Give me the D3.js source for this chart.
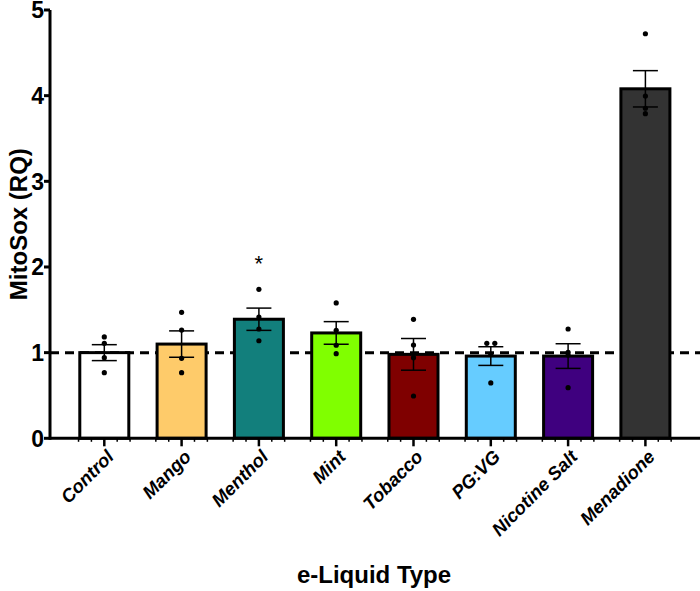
<!DOCTYPE html>
<html>
<head>
<meta charset="utf-8">
<script src="https://cdn.jsdelivr.net/npm/d3@7/dist/d3.min.js"></script>
<style>
  html, body { margin: 0; padding: 0; background: #fff; }
  svg { display: block; }
  text { font-family: "Liberation Sans", Arial, sans-serif; }
</style>
</head>
<body>
<svg id="chart" width="700" height="591"></svg>
<script>
// ---- data ----
const categories = ["Control", "Mango", "Menthol", "Mint", "Tobacco", "PG:VG", "Nicotine Salt", "Menadione"];
const means = [1.00, 1.10, 1.39, 1.23, 0.98, 0.96, 0.96, 4.08];
const sems  = [0.093, 0.154, 0.13, 0.132, 0.185, 0.109, 0.144, 0.212];
const points = [
  [1.183, 1.109, 0.941, 0.766],
  [1.471, 1.264, 0.934, 0.766],
  [1.739, 1.416, 1.276, 1.139],
  [1.580, 1.261, 1.086, 0.988],
  [1.389, 1.089, 0.941, 0.494],
  [1.109, 1.109, 0.981, 0.646],
  [1.276, 1.004, 0.972, 0.591],
  [4.723, 3.996, 3.853, 3.790]
];
const colors = ["#ffffff", "#fecb6a", "#127f7c", "#80ff00", "#7f0000", "#66ccff", "#3f007f", "#333333"];
const significant = ["Menthol"];
const yTicks = [0, 1, 2, 3, 4, 5];
const refValue = 1;
const yLabel = "MitoSox (RQ)";
const xLabel = "e-Liquid Type";

// ---- layout ----
const svg = d3.select("#chart");
const axisX = 50, axisRight = 700;
const y = d3.scaleLinear().domain([0, 5]).range([438.3, 10]);
const x = d3.scaleBand().domain(categories).range([65.65, 684.05]).paddingInner(0.366).paddingOuter(0.183);
const cx = d => x(d) + x.bandwidth() / 2;

// reference dashed line (behind bars)
svg.append("line")
  .attr("x1", axisX).attr("x2", axisRight)
  .attr("y1", y(refValue)).attr("y2", y(refValue))
  .attr("stroke", "#000").attr("stroke-width", 3)
  .attr("stroke-dasharray", "9,6");

// bars
svg.append("g").selectAll("rect").data(categories).join("rect")
  .attr("x", d => x(d))
  .attr("width", x.bandwidth())
  .attr("y", (d, i) => y(means[i]))
  .attr("height", (d, i) => y(0) - y(means[i]))
  .attr("fill", (d, i) => colors[i])
  .attr("stroke", "#000").attr("stroke-width", 3);

// error bars
const eb = svg.append("g").attr("stroke", "#000").attr("stroke-width", 1.5);
categories.forEach((c, i) => {
  const hi = y(means[i] + sems[i]), lo = y(means[i] - sems[i]);
  eb.append("line").attr("x1", cx(c)).attr("x2", cx(c)).attr("y1", hi).attr("y2", lo);
  eb.append("line").attr("x1", cx(c) - 12.5).attr("x2", cx(c) + 12.5).attr("y1", hi).attr("y2", hi);
  eb.append("line").attr("x1", cx(c) - 12.5).attr("x2", cx(c) + 12.5).attr("y1", lo).attr("y2", lo);
});

// points (spread horizontally when values coincide)
const pg = svg.append("g");
categories.forEach((c, i) => {
  const vals = points[i];
  vals.forEach((v, j) => {
    const dupIdx = vals.filter((w, k) => Math.abs(w - v) < 0.02 && k < j).length;
    const dupCount = vals.filter(w => Math.abs(w - v) < 0.02).length;
    const off = dupCount > 1 ? (dupIdx - (dupCount - 1) / 2) * 8 : 0;
    pg.append("circle").attr("cx", cx(c) + off).attr("cy", y(v)).attr("r", 2.6).attr("fill", "#000");
  });
});

// significance stars
significant.forEach(c => {
  const i = categories.indexOf(c);
  const top = d3.max(points[i]);
  svg.append("text").attr("x", cx(c)).attr("y", y(top) - 18)
    .attr("text-anchor", "middle").attr("font-size", 22).attr("fill", "#000").text("*");
});

// y axis
const yg = svg.append("g");
yg.append("line").attr("x1", axisX).attr("x2", axisX).attr("y1", y(0) + 1.5).attr("y2", y(5))
  .attr("stroke", "#000").attr("stroke-width", 3);
yTicks.forEach(t => {
  yg.append("line").attr("x1", axisX - 6).attr("x2", axisX).attr("y1", y(t)).attr("y2", y(t))
    .attr("stroke", "#000").attr("stroke-width", 3);
  yg.append("text").attr("x", axisX - 6).attr("y", y(t)).attr("dy", "0.36em")
    .attr("text-anchor", "end").attr("font-size", 23).attr("font-weight", "bold").text(t);
});

// x axis
const xg = svg.append("g");
xg.append("line").attr("x1", axisX).attr("x2", axisRight).attr("y1", y(0)).attr("y2", y(0))
  .attr("stroke", "#000").attr("stroke-width", 3);
const step = x.step();
categories.forEach(c => {
  xg.append("line").attr("x1", cx(c)).attr("x2", cx(c)).attr("y1", y(0)).attr("y2", y(0) + 8)
    .attr("stroke", "#000").attr("stroke-width", 2.5);
  for (let k = -2; k <= 2; k++) {
    if (k === 0) continue;
    const mx = cx(c) + k * step / 6;
    xg.append("line").attr("x1", mx).attr("x2", mx).attr("y1", y(0)).attr("y2", y(0) + 3.5)
      .attr("stroke", "#000").attr("stroke-width", 1.5);
  }
  xg.append("text")
    .attr("transform", `translate(${cx(c) + 6},${y(0) + 15}) rotate(-45)`)
    .attr("text-anchor", "end").attr("dy", "0.35em")
    .attr("font-size", 18.5).attr("font-weight", "bold").attr("font-style", "italic")
    .text(c);
});

// axis titles
svg.append("text").attr("transform", `translate(27,${(y(0) + y(5)) / 2}) rotate(-90)`)
  .attr("text-anchor", "middle").attr("font-size", 24).attr("font-weight", "bold").text(yLabel);
svg.append("text").attr("x", 374).attr("y", 583)
  .attr("text-anchor", "middle").attr("font-size", 24).attr("font-weight", "bold").text(xLabel);
</script>
</body>
</html>
